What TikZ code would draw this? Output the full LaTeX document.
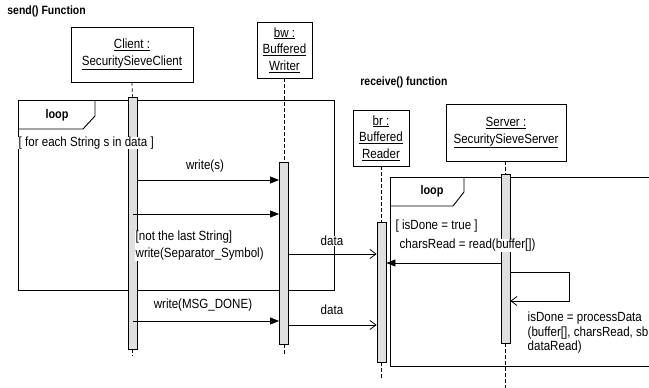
\documentclass[tikz,border=0pt]{standalone}
\usepackage{fontspec}
\setmainfont[FakeStretch=0.87]{Liberation Sans}
\usetikzlibrary{arrows.meta}
\begin{document}
\begin{tikzpicture}[x=1pt,y=-1pt,line width=0.8pt,
  objbox/.style={draw,rectangle,inner sep=0pt,align=center,font=\fontsize{13.3}{16.7}\selectfont},
  actbar/.style={draw,rectangle,fill=black!12,minimum width=9pt,inner sep=0pt},
  lifeline/.style={dashed,dash pattern=on 3.5pt off 2.5pt,line width=0.7pt},
  lbl/.style={inner sep=0.3pt,font=\fontsize{13.3}{17}\selectfont},
  wlbl/.style={lbl,fill=white},
  ttl/.style={inner sep=0pt,font=\fontsize{12}{14}\selectfont\bfseries},
  frm/.style={draw,line width=0.9pt},
  syncmsg/.style={-{Triangle[length=9pt,width=7pt]}},
  asyncmsg/.style={-{Straight Barb[length=6pt,width=9pt]}}
]
\useasboundingbox (0,0) rectangle (649,388);

% titles
\node[ttl,anchor=west] (t1) at (7,11) {send() Function};
\node[ttl,anchor=west] (t2) at (360,82) {receive() function};

% object boxes
\node[objbox,minimum width=122pt,minimum height=55pt] (client) at (132,54.5) {\underline{Client :}\\\underline{SecuritySieveClient}};
\node[objbox,minimum width=55pt,minimum height=56pt] (bw) at (284.5,50) {\underline{bw :}\\\underline{Buffered}\\\underline{Writer}};
\node[objbox,minimum width=56pt,minimum height=56pt] (br) at (381,138) {\underline{br :}\\\underline{Buffered}\\\underline{Reader}};
\node[objbox,minimum width=120pt,minimum height=57pt] (server) at (506,132.5) {\underline{Server :}\\\underline{SecuritySieveServer}};

% left loop frame
\draw[frm] (18,100) rectangle (334,290);
\draw[frm] (18,129) -- (83,129) -- (95,116) -- (95,100);
\node[lbl,font=\fontsize{12.5}{14}\selectfont\bfseries] (loop1) at (57,115) {loop};

% right loop frame
\draw[frm] (390,177) -- (660,177) (390,177) -- (390,366) -- (660,366);
\draw[frm] (390,206) -- (453,206) -- (464,192) -- (464,177);
\node[lbl,font=\fontsize{12.5}{14}\selectfont\bfseries] (loop2) at (432,191) {loop};

% activation bars
\node[actbar,minimum height=252pt] (cb) at (132.5,223) {};
\node[actbar,minimum height=182pt] (bwb) at (284,253) {};
\node[actbar,minimum height=140pt] (brb) at (381.5,292) {};
\node[actbar,minimum height=169pt] (sb) at (505.5,258.5) {};

% lifelines
\coordinate (cend) at (132.5,356);
\coordinate (bwend) at (284,356);
\coordinate (brend) at (381.5,378);
\coordinate (send) at (505.5,390);
\draw[lifeline] (client.south) -- (cb.north);
\draw[lifeline] (cb.south) -- (cend);
\draw[lifeline] (bw.south -| bwb.north) -- (bwb.north);
\draw[lifeline] (bwb.south) -- (bwend);
\draw[lifeline] (br.south -| brb.north) -- (brb.north);
\draw[lifeline] (brb.south) -- (brend);
\draw[lifeline] (server.south -| sb.north) -- (sb.north);
\draw[lifeline] (sb.south) -- (send);

% guards
\node[wlbl,anchor=west] (guard1) at (18,143) {[ for each String s in data ]};

% messages
\draw[syncmsg] (cb.east |- 0,180) -- (bwb.west |- 0,180);
\node[lbl] (m1) at (205,166) {write(s)};
\draw[syncmsg] (cb.center |- 0,214) -- (bwb.west |- 0,214);
\node[wlbl,anchor=west,align=left] (m2) at (135,245.5) {[not the last String]\\write(Separator\_Symbol)};
\draw[asyncmsg] (bwb.east |- 0,254) -- (brb.west |- 0,254);
\node[wlbl,anchor=west] (d1) at (320,241) {data};
\draw[syncmsg] (cb.center |- 0,321) -- (bwb.west |- 0,321);
\node[lbl] (m3) at (203,305) {write(MSG\_DONE)};
\draw[asyncmsg] (bwb.east |- 0,325) -- (brb.west |- 0,325);
\node[wlbl,anchor=west] (d2) at (320,310) {data};

\node[wlbl,anchor=west] (guard2) at (395,226) {[ isDone = true ]};
\node[wlbl,anchor=west] (m4) at (399,245) {charsRead = read(buffer[])};
\draw[syncmsg] (sb.west |- 0,263) -- (brb.east |- 0,263);
\coordinate (selfa) at (569,272);
\coordinate (selfb) at (569,301);
\draw[asyncmsg] (sb.east |- selfa) -- (selfa) -- (selfb) -- (sb.east |- selfb);
\node[lbl,anchor=west,align=left,font=\fontsize{13.3}{14.5}\selectfont] (m5) at (527,333) {isDone = processData\\(buffer[], charsRead, sb\\dataRead)};
\end{tikzpicture}
\end{document}
